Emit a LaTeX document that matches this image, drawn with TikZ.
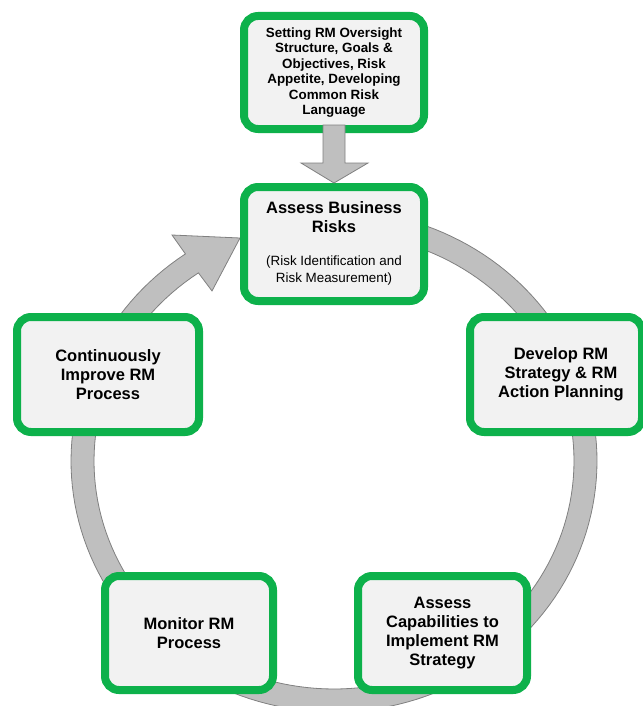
\documentclass[tikz,border=0pt]{standalone}
\usepackage{fontspec}
\setmainfont{Liberation Sans}
\usetikzlibrary{calc}
\definecolor{rmgreen}{RGB}{13,177,75}
\definecolor{boxfill}{RGB}{242,242,242}
\definecolor{ringfill}{RGB}{191,191,191}
\definecolor{ringedge}{RGB}{128,128,128}
\tikzset{
  rmbox/.style={draw=rmgreen, line width=8pt, fill=boxfill, rounded corners=14pt,
    align=center, inner sep=0pt, text=black,
    font=\fontsize{16.5}{19}\selectfont\bfseries},
  rmtext/.style={align=center, inner sep=0pt, text=black},
  grayshape/.style={fill=ringfill, draw=ringedge, line width=0.8pt, line join=miter}
}
\begin{document}
\begin{tikzpicture}[x=1pt,y=-1pt]
\useasboundingbox (0,0) rectangle (642,706);
% circular arrow (ring)
\filldraw[grayshape]
  plot[domain=90:-235.6, samples=160] ({334+263*cos(\x)},{461-251*sin(\x)})
  -- (172,235) -- (240,238) -- (212,291)
  -- plot[domain=-235.6:90, samples=160] ({334+240*cos(\x)},{461-228*sin(\x)})
  -- cycle;
% boxes
\node[rmbox, minimum width=180pt, minimum height=113pt,
      font=\fontsize{13.4}{15.4}\selectfont\bfseries] (top) at (334,72.5)
  {Setting RM Oversight\\Structure, Goals \&\\Objectives, Risk\\Appetite, Developing\\Common Risk\\Language};
\node[rmbox, minimum width=180pt, minimum height=114pt] (ab) at (334,244) {};
% down arrow
\filldraw[grayshape]
  ($(top.south)+(-11,-8)$) -- ($(top.south)+(11,-8)$) -- ($(ab.north)+(11,-20)$)
  -- ($(ab.north)+(34,-20)$) -- (ab.north) -- ($(ab.north)+(-33,-20)$)
  -- ($(ab.north)+(-11,-20)$) -- cycle;
\node[rmtext, font=\fontsize{16.5}{19}\selectfont\bfseries] (abt) at (334,217.5)
  {Assess Business\\Risks};
\node[rmtext, font=\fontsize{13.4}{17.5}\selectfont] (abs) at (334,270.5)
  {(Risk Identification and\\Risk Measurement)};
\node[rmbox, minimum width=182pt, minimum height=115pt] (ci) at (108,374.5)
  {Continuously\\Improve RM\\Process};
\node[rmbox, minimum width=172pt, minimum height=115pt] (dev) at (556,374.5) {};
\node[rmtext, font=\fontsize{16.5}{19}\selectfont\bfseries] (devt) at (561,374.5)
  {Develop RM\\Strategy \& RM\\Action Planning};
\node[rmbox, minimum width=168pt, minimum height=114pt] (mon) at (189,633)
  {Monitor RM\\Process};
\node[rmbox, minimum width=169pt, minimum height=114pt] (cap) at (442.5,633)
  {Assess\\Capabilities to\\Implement RM\\Strategy};
\end{tikzpicture}
\end{document}
